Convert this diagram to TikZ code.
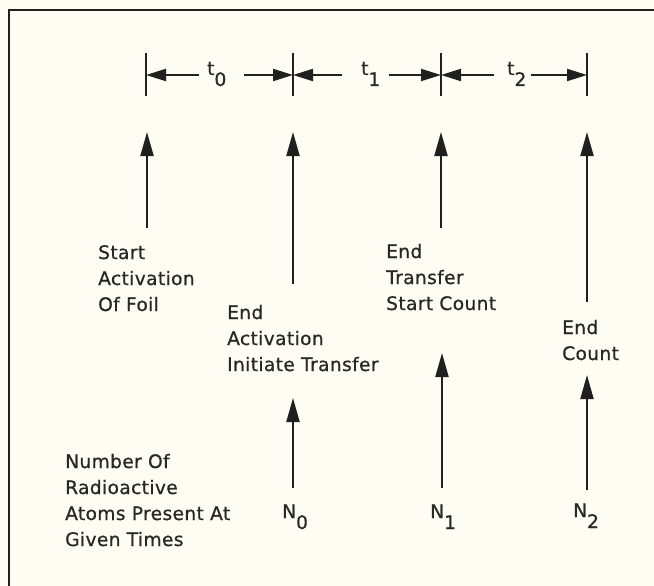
\documentclass[tikz,border=0pt]{standalone}
\usepackage{fontspec}
\setmainfont{DejaVu Sans}[LetterSpace=2,FakeBold=0.8]
\usetikzlibrary{arrows.meta}
\definecolor{paper}{RGB}{254,253,243}
\definecolor{inkc}{RGB}{32,32,30}
\definecolor{txtc}{RGB}{40,40,38}
\newcommand\lblfont{\fontsize{18.6}{26}\selectfont}
\newcommand\lowsub[1]{\raisebox{-11pt}{#1}}
\begin{document}
\begin{tikzpicture}[x=1pt,y=-1pt,
  ink/.style={draw=inkc, line width=2pt},
  frame/.style={draw=inkc, line width=2.4pt},
  upar/.style={ink, -{Triangle[length=24pt,width=13pt]}},
  dimar/.style={ink, -{Triangle[length=20pt,width=12pt]}},
  lbl/.style={anchor=base west, inner sep=0pt, align=left, text=txtc, font=\lblfont},
  sym/.style={anchor=base west, inner sep=0pt, text=txtc, font=\lblfont}]
\fill[paper] (0,0) rectangle (654,586);
\useasboundingbox (0,0) rectangle (654,586);
% frame (top and left edges)
\draw[frame] (654,10) -| (9,586);

% time axis ticks
\foreach \i/\x in {0/146,1/293,2/441,3/587}{
  \coordinate (k\i t) at (\x,53);
  \coordinate (k\i b) at (\x,96);
  \coordinate (k\i) at (\x,75);
  \draw[ink] (k\i t) -- (k\i b);
}
% interval labels
\node[sym] (t0) at (207,75) {t\lowsub{0}};
\node[sym] (t1) at (361,75) {t\lowsub{1}};
\node[sym] (t2) at (507,75) {t\lowsub{2}};
% interval arrows
\coordinate (a0l) at (199,75); \coordinate (a0r) at (244,75);
\coordinate (a1l) at (342,75); \coordinate (a1r) at (389,75);
\coordinate (a2l) at (494,75); \coordinate (a2r) at (531,75);
\draw[dimar] (a0l) -- (k0); \draw[dimar] (a0r) -- (k1);
\draw[dimar] (a1l) -- (k1); \draw[dimar] (a1r) -- (k2);
\draw[dimar] (a2l) -- (k2); \draw[dimar] (a2r) -- (k3);

% event arrows
\coordinate (u0tip) at (147,132); \coordinate (u0tail) at (147,228);
\coordinate (u1tip) at (293,132); \coordinate (u1tail) at (293,284);
\coordinate (u2tip) at (441,132); \coordinate (u2tail) at (441,228);
\coordinate (u3tip) at (587,132); \coordinate (u3tail) at (587,302);
\foreach \i in {0,...,3}{\draw[upar] (u\i tail) -- (u\i tip);}

% event labels (anchored at the baseline of the last line)
\node[lbl] (ev0) at (98,311) {Start\\Activation\\Of Foil};
\node[lbl] (ev1) at (227,371) {End\\Activation\\Initiate Transfer};
\node[lbl] (ev2) at (386,310) {End\\Transfer\\Start Count};
\node[lbl] (ev3) at (562,360) {End\\Count};

% atom counts
\node[lbl] (cnt) at (65,546) {Number Of\\Radioactive\\Atoms Present At\\Given Times};
\node[sym] (n0) at (282,518) {N\lowsub{0}};
\node[sym] (n1) at (430,518) {N\lowsub{1}};
\node[sym] (n2) at (573,517) {N\lowsub{2}};
\coordinate (m0tip) at (293,398); \coordinate (m0tail) at (293,488);
\coordinate (m1tip) at (442,353); \coordinate (m1tail) at (442,488);
\coordinate (m2tip) at (587,375); \coordinate (m2tail) at (587,490);
\foreach \i in {0,1,2}{\draw[upar] (m\i tail) -- (m\i tip);}
\end{tikzpicture}
\end{document}
